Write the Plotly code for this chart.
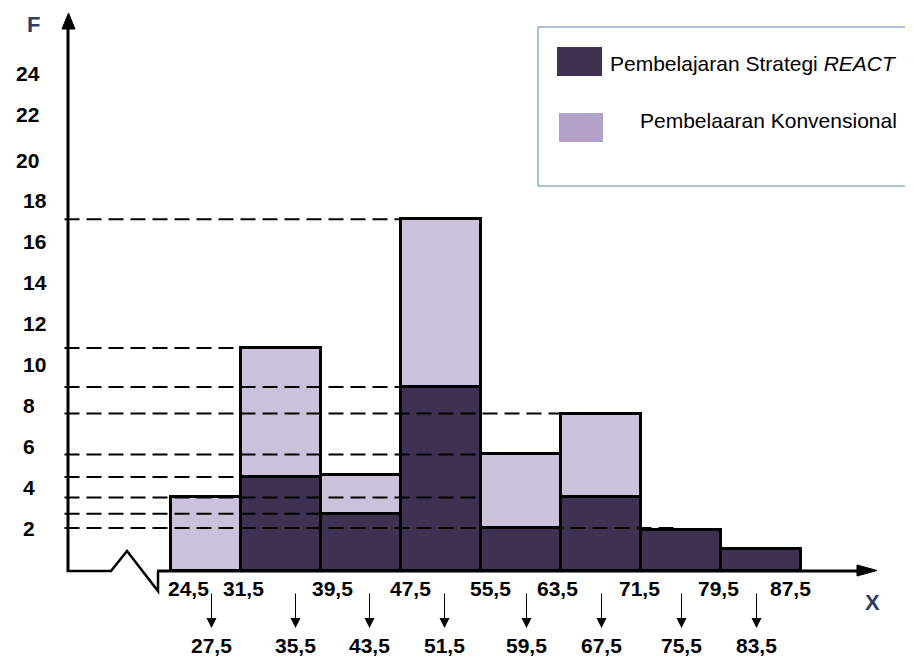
import plotly.graph_objects as go

# ---------------- data ----------------
boundaries = [24.5, 31.5, 39.5, 47.5, 55.5, 63.5, 71.5, 79.5, 87.5]
class_marks = [27.5, 35.5, 43.5, 51.5, 59.5, 67.5, 75.5, 83.5]
react = [0, 4.6, 2.8, 9.0, 2.1, 3.6, 2.0, 1.1]      # Pembelajaran Strategi REACT
konv = [3.6, 6.3, 1.9, 8.2, 3.6, 4.1, 0, 0]         # Pembelaaran Konvensional (stacked part)
y_ticks = [2, 4, 6, 8, 10, 12, 14, 16, 18, 20, 22, 24]

# ---------------- style ----------------
W, H = 913, 656
OFF = 8  # page body margin
DARK = "#3f3152"
LIGHT = "#ccc1da"
LEG_LIGHT = "#b3a2c7"
FONT = "Arial, 'Liberation Sans', sans-serif"

def PX(p):
    return (p - OFF) / W

def PY(p):
    return 1 - (p - OFF) / H

def fmt(v):
    return f"{v:.1f}".replace(".", ",")

# axis ranges (screen px -> data): x = 7.45 + px/10 ; y = (571 - py)/20.45
XR = [7.45 + OFF / 10, 7.45 + (W + OFF) / 10]
YR = [(571 - (H + OFF)) / 20.45, (571 - OFF) / 20.45]

mids = [(a + b) / 2 for a, b in zip(boundaries[:-1], boundaries[1:])]
widths = [b - a for a, b in zip(boundaries[:-1], boundaries[1:])]
totals = [r + k for r, k in zip(react, konv)]

fig = go.Figure()
fig.add_bar(x=mids, y=react, width=widths, name="Pembelajaran Strategi REACT",
            marker=dict(color=DARK, line=dict(color="black", width=3)))
fig.add_bar(x=mids, y=konv, width=widths, name="Pembelaaran Konvensional",
            marker=dict(color=LIGHT, line=dict(color="black", width=3)))

shapes = []
# dashed guide lines from the axis to the bar tops
guides = [
    (totals[3], boundaries[3]),
    (totals[1], boundaries[2]),
    (react[3], boundaries[3]),
    (totals[5], boundaries[5]),
    (totals[4], boundaries[4]),
    (react[1], boundaries[1]),
    (react[5], boundaries[4]),
    (react[2], boundaries[3]),
    (react[4], class_marks[6]),
]
for yv, xe in guides:
    shapes.append(dict(type="line", xref="x", yref="y", x0=13.9, x1=xe, y0=yv, y1=yv,
                       line=dict(color="black", width=2, dash="15px,7px"), layer="above"))

# axes (decorative)
shapes.append(dict(type="line", xref="paper", yref="paper", x0=PX(68), x1=PX(68),
                   y0=PY(572), y1=PY(24), line=dict(color="black", width=3)))
shapes.append(dict(type="line", xref="paper", yref="paper", x0=PX(157), x1=PX(862),
                   y0=PY(571), y1=PY(571), line=dict(color="black", width=3)))
shapes.append(dict(type="path", xref="paper", yref="paper",
                   path=f"M{PX(67)},{PY(571)} L{PX(111)},{PY(571)} L{PX(127)},{PY(551)} "
                        f"L{PX(158)},{PY(591)} L{PX(158)},{PY(571)}",
                   line=dict(color="black", width=2.5)))
# arrow heads
shapes.append(dict(type="path", xref="paper", yref="paper",
                   path=f"M{PX(62)},{PY(29)} L{PX(68.5)},{PY(13)} L{PX(75)},{PY(29)} Z",
                   fillcolor="black", line=dict(color="black", width=1)))
shapes.append(dict(type="path", xref="paper", yref="paper",
                   path=f"M{PX(857)},{PY(565)} L{PX(877)},{PY(570.5)} L{PX(857)},{PY(576)} Z",
                   fillcolor="black", line=dict(color="black", width=1)))

# legend box
shapes.append(dict(type="rect", xref="paper", yref="paper", x0=PX(538), x1=PX(940),
                   y0=PY(27), y1=PY(186), line=dict(color="#5f82a8", width=1)))
shapes.append(dict(type="rect", xref="paper", yref="paper", x0=PX(557), x1=PX(602),
                   y0=PY(47), y1=PY(76), fillcolor=DARK, line=dict(width=0)))
shapes.append(dict(type="rect", xref="paper", yref="paper", x0=PX(559), x1=PX(603),
                   y0=PY(113), y1=PY(142), fillcolor=LEG_LIGHT, line=dict(width=0)))

ann = []
bold = dict(family=FONT, size=21, color="black")

# y labels
for v in y_ticks:
    left = 14 if v >= 20 else 21
    ysh = {24: 7, 22: 7, 20: 2}.get(v, 2)
    ann.append(dict(x=PX(left), xref="paper", y=v, yref="y", text=f"<b>{v}</b>",
                    showarrow=False, xanchor="left", yanchor="middle", yshift=ysh, font=bold))
ann.append(dict(x=PX(33), xref="paper", y=PY(24), yref="paper", text="<b>F</b>",
                showarrow=False, xanchor="center", yanchor="middle", font=dict(family=FONT, size=22)))
ann.append(dict(x=PX(872), xref="paper", y=PY(602), yref="paper", text="<b>X</b>",
                showarrow=False, xanchor="center", yanchor="middle", font=dict(family=FONT, size=22)))

# class boundary labels
top_nudge = [18, 3, 12, 10, 10, -3, -1, -2, -10]
for b, n in zip(boundaries, top_nudge):
    ann.append(dict(x=b, xref="x", y=PY(588), yref="paper", text=f"<b>{fmt(b)}</b>",
                    showarrow=False, xanchor="center", yanchor="middle", xshift=n, font=bold))

# class marks with arrows
mark_nudge = [11, 15, 9, 4, 6, 1, 1, -4]
for m, n in zip(class_marks, mark_nudge):
    ann.append(dict(x=m, xref="x", y=PY(628), yref="paper", text="", showarrow=True,
                    ax=0, ay=-36, arrowhead=2, arrowsize=2, arrowwidth=1, arrowcolor="black",
                    xshift=n))
    ann.append(dict(x=m, xref="x", y=PY(645), yref="paper", text=f"<b>{fmt(m)}</b>",
                    showarrow=False, xanchor="center", yanchor="middle", xshift=n, font=bold))

# legend texts
ann.append(dict(x=PX(608), xref="paper", y=PY(63), yref="paper",
                text="Pembelajaran Strategi <i>REACT</i>", showarrow=False,
                xanchor="left", yanchor="middle", font=dict(family=FONT, size=21, color="black")))
ann.append(dict(x=PX(638), xref="paper", y=PY(121), yref="paper",
                text="Pembelaaran Konvensional", showarrow=False,
                xanchor="left", yanchor="middle", font=dict(family=FONT, size=21, color="black")))

fig.update_layout(
    width=W, height=H, barmode="stack", bargap=0, showlegend=False,
    margin=dict(l=0, r=0, t=0, b=0),
    paper_bgcolor="white", plot_bgcolor="white",
    xaxis=dict(visible=False, range=XR, fixedrange=True),
    yaxis=dict(visible=False, range=YR, fixedrange=True),
    shapes=shapes, annotations=ann,
)

fig.write_html("out.html")
